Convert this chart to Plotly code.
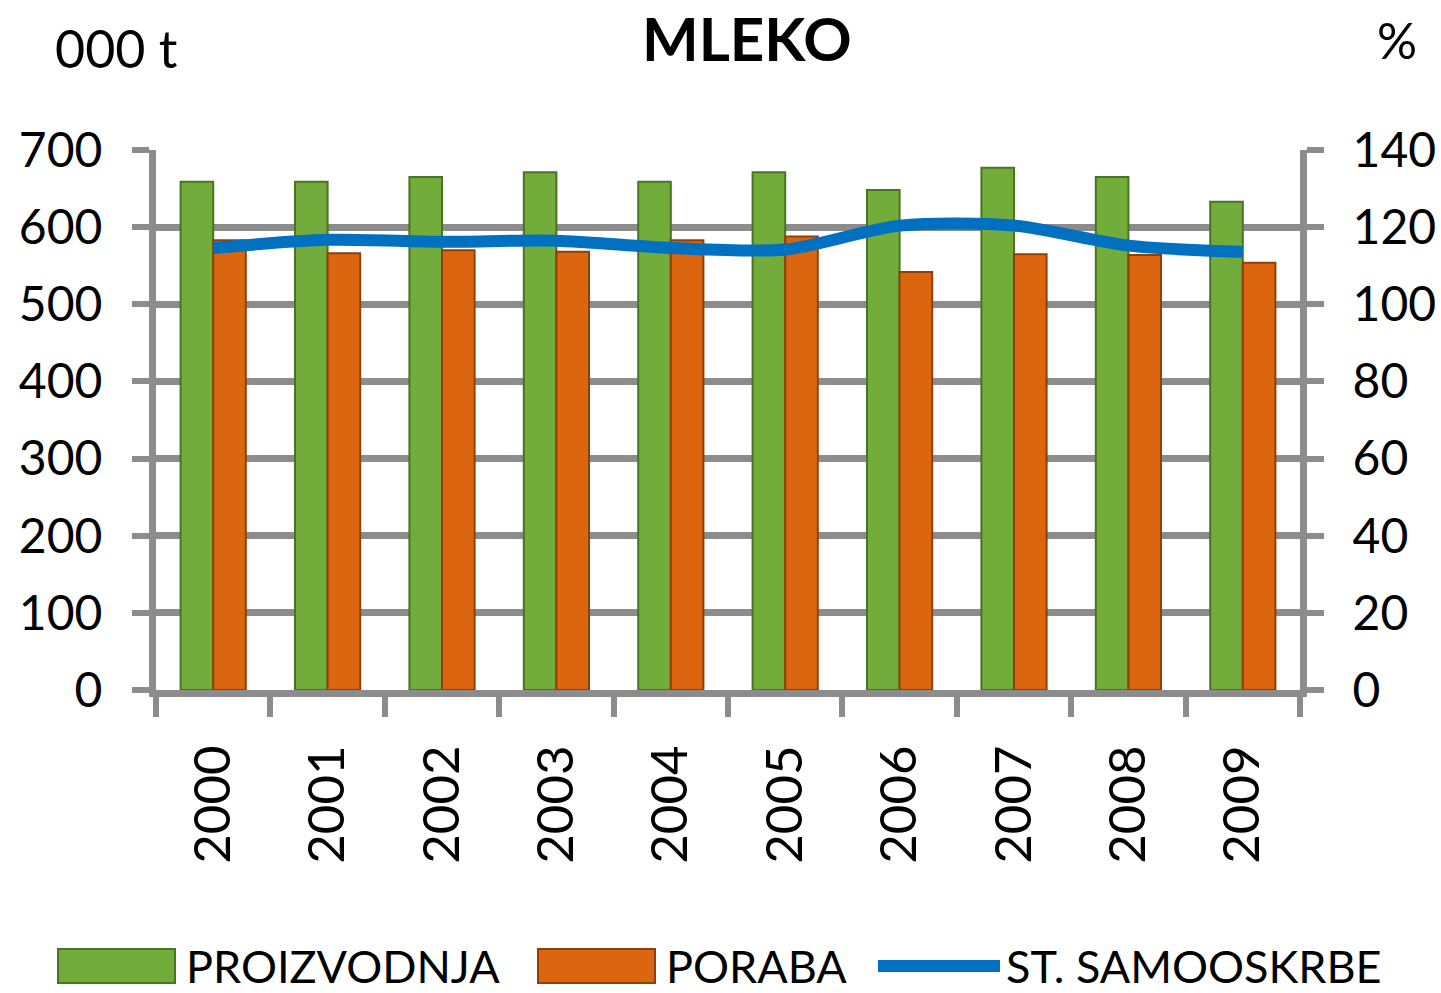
import plotly.graph_objects as go

years = ["2000", "2001", "2002", "2003", "2004", "2005", "2006", "2007", "2008", "2009"]
proizvodnja = [659, 659, 665, 671, 659, 671, 648, 677, 665, 633]
poraba = [583, 566, 570, 568, 583, 588, 542, 565, 564, 554]
samooskrba = [114.6, 116.7, 116.2, 116.5, 114.6, 114.2, 120.4, 120.4, 115.2, 113.6]

FONT = "Lato, Carlito, 'Open Sans', sans-serif"
GRID = "#8c8c8c"
GREEN = "#72ac3a"
ORANGE = "#dc650f"
BLUE = "#0070c0"

W, H = 1441, 993
l, r, t, b = 156, 141, 150, 303
pw, ph = W - l - r, H - t - b


def px(xp, yp):
    return (xp - l) / pw, 1 - (yp - t) / ph


fig = go.Figure()
fig.add_trace(go.Bar(x=years, y=proizvodnja, name="PROIZVODNJA", showlegend=False,
                     marker=dict(color=GREEN, line=dict(color="#4a7424", width=2))))
fig.add_trace(go.Bar(x=years, y=poraba, name="PORABA", showlegend=False,
                     marker=dict(color=ORANGE, line=dict(color="#8e4008", width=2))))
fig.add_trace(go.Scatter(x=years, y=samooskrba, name="ST. SAMOOSKRBE", yaxis="y2",
                         showlegend=False, mode="lines",
                         line=dict(color=BLUE, width=12, shape="spline", smoothing=0.8)))

axis_common = dict(showline=True, linecolor=GRID, linewidth=7, ticks="outside",
                   tickwidth=6, tickcolor=GRID, automargin=False,
                   tickfont=dict(size=48, family=FONT, color="black"))

fig.update_layout(
    width=W, height=H,
    paper_bgcolor="white", plot_bgcolor="white",
    margin=dict(l=l, r=r, t=t, b=b),
    font=dict(family=FONT, size=48, color="black"),
    barmode="group", bargap=0.43, bargroupgap=0,
    showlegend=False,
    xaxis=dict(**axis_common, tickson="boundaries", ticklen=20, tickangle=-90,
               showgrid=False, ticklabelstandoff=28),
    yaxis=dict(**axis_common, range=[0, 700], dtick=100, showgrid=True, gridcolor=GRID,
               gridwidth=7, ticklen=17, zeroline=False, ticklabelstandoff=20),
    yaxis2=dict(**axis_common, range=[0, 140], dtick=20, overlaying="y", side="right",
                showgrid=False, ticklen=17, zeroline=False, ticklabelstandoff=19),
)
fig.update_xaxes(tickfont=dict(size=51))

ann = []
for text, xp, yp, sz in [("<b>MLEKO</b>", 747, 38, 60), ("000 t", 116, 48, 52),
                         ("%", 1397, 40, 50)]:
    xx, yy = px(xp, yp)
    ann.append(dict(text=text, x=xx, y=yy, xref="paper", yref="paper", showarrow=False,
                    xanchor="center", yanchor="middle", font=dict(size=sz)))

# legend built by hand (wide symbols as in the original)
shapes = []
legend_items = [("PROIZVODNJA", 58, 175, 184, "bar", GREEN, "#4a7424"),
                ("PORABA", 538, 655, 664, "bar", ORANGE, "#8e4008"),
                ("ST. SAMOOSKRBE", 878, 1000, 1004, "line", BLUE, BLUE)]
LY = 966
for text, x0, x1, tx, kind, col, edge in legend_items:
    a0, yy0 = px(x0, LY - 17)
    a1, yy1 = px(x1, LY + 17)
    if kind == "bar":
        shapes.append(dict(type="rect", xref="paper", yref="paper", x0=a0, x1=a1,
                           y0=yy1, y1=yy0, fillcolor=col, line=dict(color=edge, width=2)))
    else:
        _, ym = px(0, LY)
        shapes.append(dict(type="line", xref="paper", yref="paper", x0=a0, x1=a1,
                           y0=ym, y1=ym, line=dict(color=col, width=12)))
    txx, tyy = px(tx, LY)
    ann.append(dict(text=text, x=txx, y=tyy, xref="paper", yref="paper", showarrow=False,
                    xanchor="left", yanchor="middle", font=dict(size=45)))

fig.update_layout(annotations=ann, shapes=shapes)

fig.write_html("out.html", config={"displayModeBar": False},
               post_script="document.body.style.margin='0';document.body.style.overflow='hidden';")
